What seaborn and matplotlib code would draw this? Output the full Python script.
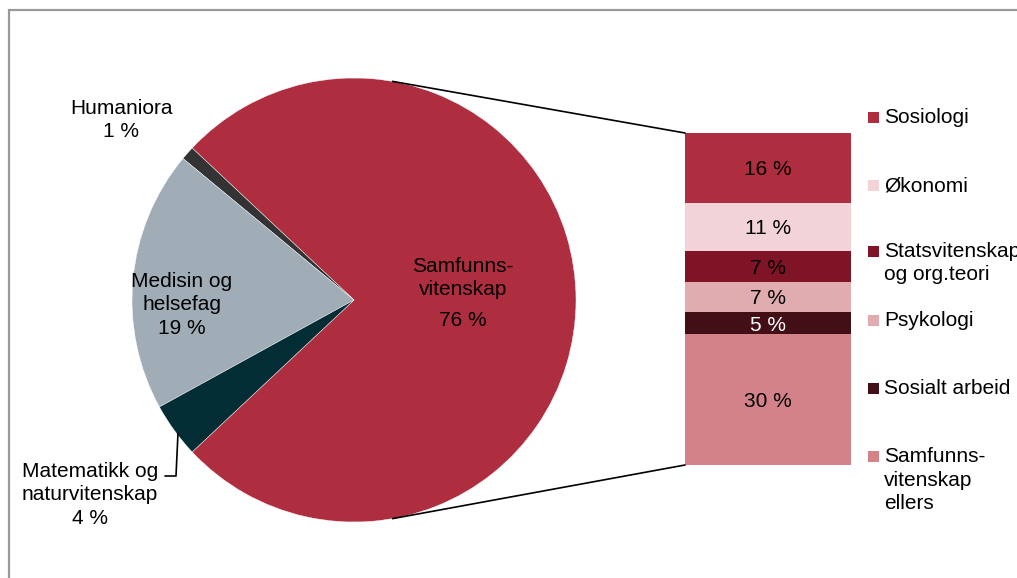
import numpy as np
import seaborn as sns
import matplotlib.pyplot as plt
from matplotlib.patches import Rectangle

# pie: main fields (share of all, %)
pie_labels = ["Samfunns-\nvitenskap", "Humaniora", "Medisin og\nhelsefag", "Matematikk og\nnaturvitenskap"]
pie_values = [76, 1, 19, 4]
pie_colors = ["#AE2E40", "#333333", "#A0ACB6", "#032D35"]

# bar: split of samfunnsvitenskap (%)
bar_labels = ["Sosiologi", "Økonomi", "Statsvitenskap\nog org.teori", "Psykologi",
              "Sosialt arbeid", "Samfunns-\nvitenskap\nellers"]
bar_values = [16, 11, 7, 7, 5, 30]
bar_colors = ["#AE2E40", "#F2D4D8", "#7F1426", "#E1ACB0", "#430F17", "#D4828A"]
bar_text_colors = ["black", "black", "black", "black", "white", "black"]

W, H = 1017, 578

sns.set_theme(style="white")
plt.rcParams["font.family"] = ["Liberation Sans", "DejaVu Sans"]
plt.rcParams["text.color"] = "black"

fig = plt.figure(figsize=(W / 100, H / 100), dpi=100)
ax = fig.add_axes([0, 0, 1, 1])


def py(y):
    # pixel row from top -> data y
    return H - y


FS = 15
LS = 1.3

# frame (cropped on right and bottom)
ax.plot([9, 9, W + 10], [py(H + 10), py(10), py(10)], color="#999999", lw=1.6, solid_joinstyle="miter")

# pie
cx, cy, r = 354, py(300), 222
start = -pie_values[0] / 100 * 360 / 2
ax.pie(pie_values, colors=pie_colors, startangle=start, counterclock=True,
       center=(cx, cy), radius=r, frame=True,
       wedgeprops=dict(linewidth=0.3, edgecolor="white"))
ax.set_xlim(0, W)
ax.set_ylim(0, H)
ax.set_aspect("equal")
ax.axis("off")

# pie labels
ax.text(463, py(278), pie_labels[0], ha="center", va="center", fontsize=FS, linespacing=LS)
ax.text(463, py(320), f"{pie_values[0]} %", ha="center", va="center", fontsize=FS)
ax.text(121, py(120), f"{pie_labels[1]}\n{pie_values[1]} %", ha="center", va="center", fontsize=FS, linespacing=LS)
ax.text(182, py(305), f"{pie_labels[2]}\n{pie_values[2]} %", ha="center", va="center", fontsize=FS, linespacing=LS)
ax.text(90, py(495), f"{pie_labels[3]}\n{pie_values[3]} %", ha="center", va="center", fontsize=FS, linespacing=LS)
# leader line for the small slice
ax.plot([178, 176, 165], [py(433), py(476), py(476)], color="black", lw=1.2)

# stacked bar
bx, bw = 685, 166
btop = py(133)
scale = (465 - 133) / sum(bar_values)
heights = np.array(bar_values) * scale
tops = btop - np.concatenate([[0], np.cumsum(heights)[:-1]])
bottoms = tops - heights
ax.bar([bx + bw / 2] * len(bar_values), heights, width=bw, bottom=bottoms,
       color=bar_colors, linewidth=0)
for val, b, h, tc in zip(bar_values, bottoms, heights, bar_text_colors):
    ax.text(bx + bw / 2, b + h / 2 - 2, f"{val} %", ha="center", va="center", fontsize=FS, color=tc)

# connector lines from pie to bar
ang = np.deg2rad(80)
ax.plot([cx + r * np.cos(ang), bx], [cy + r * np.sin(ang), btop], color="black", lw=1.2)
ax.plot([cx + r * np.cos(ang), bx], [cy - r * np.sin(ang), bottoms[-1]], color="black", lw=1.2)

# legend
legend_y = [117, 185, 251, 320, 388, 456]
for lab, col, ly in zip(bar_labels, bar_colors, legend_y):
    ax.add_patch(Rectangle((868, py(ly) - 5.5), 11, 11, color=col, lw=0))
    ax.text(884, py(ly) + 9, lab, ha="left", va="top", fontsize=FS, linespacing=LS)

fig.savefig("out.png", dpi=100)
